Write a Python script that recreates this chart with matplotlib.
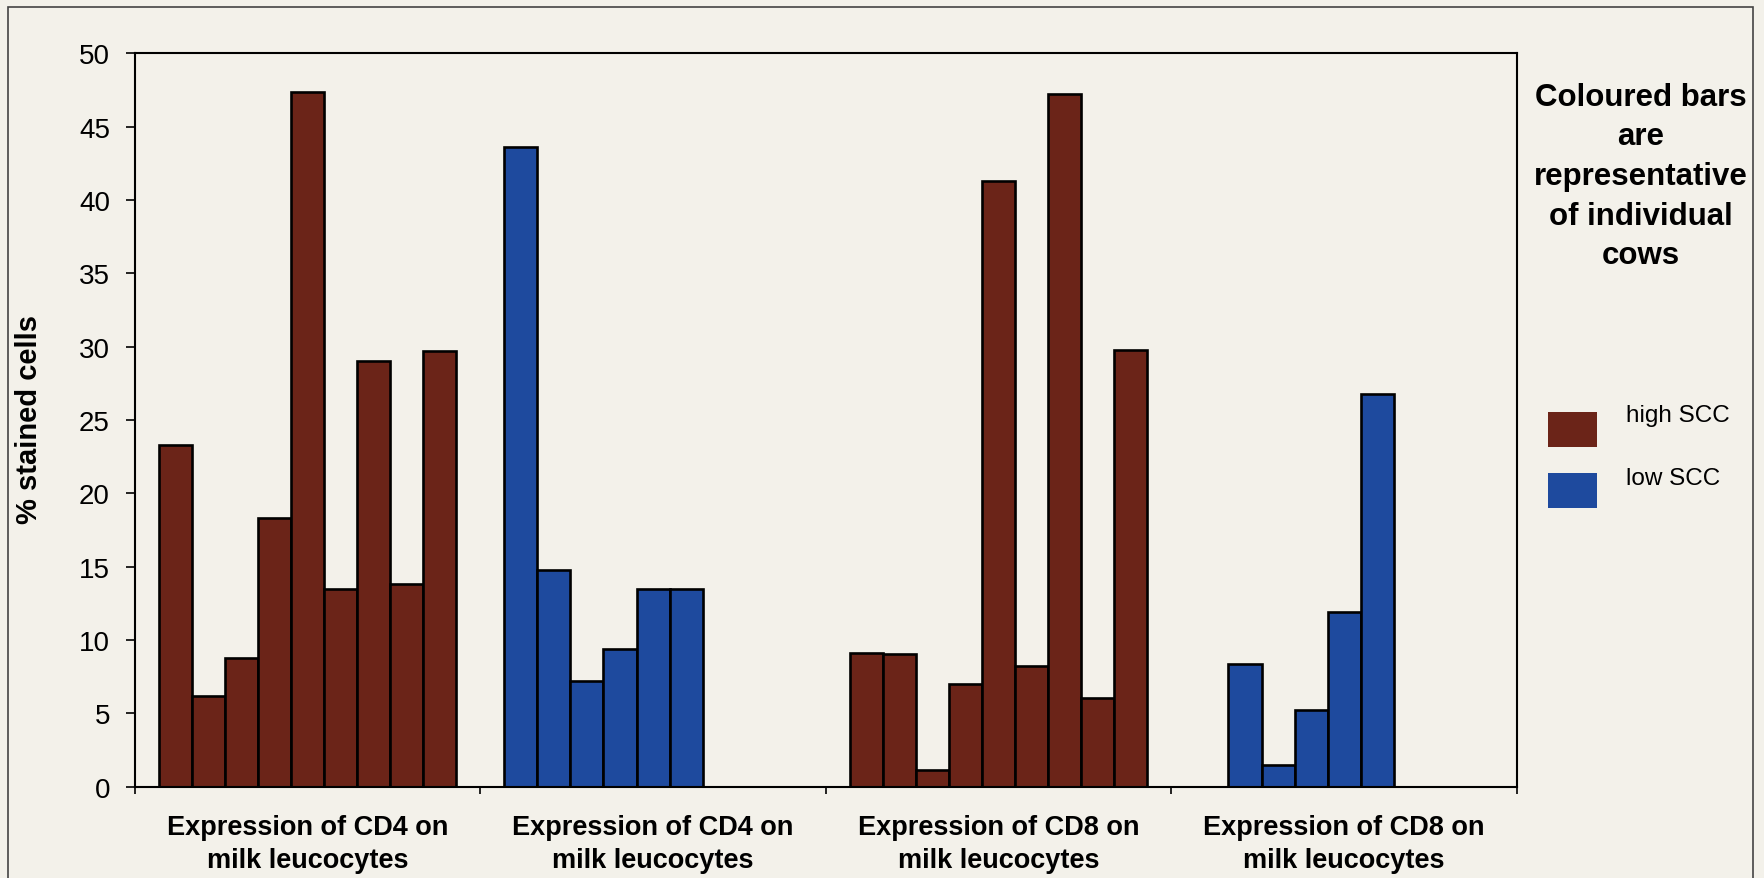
import numpy as np
import matplotlib
matplotlib.use('Agg')
from matplotlib import pyplot as plt
from matplotlib.patches import Rectangle

plt.rcParams['font.family'] = ['Liberation Sans', 'DejaVu Sans']

# values per category, one slot per cow (None = no bar in that slot)
categories = ['Expression of CD4 on\nmilk leucocytes',
              'Expression of CD4 on\nmilk leucocytes',
              'Expression of CD8 on\nmilk leucocytes',
              'Expression of CD8 on\nmilk leucocytes']
cd4_high = [23.3, 6.2, 8.75, 18.35, 47.4, 13.5, 29.0, 13.85, 29.7]
cd4_low = [43.6, 14.8, 7.2, 9.35, 13.45, 13.45, None, None, None]
cd8_high = [9.1, 9.05, 1.15, 7.0, 41.3, 8.2, 47.25, 6.05, 29.8]
cd8_low = [None, 8.35, 1.5, 5.2, 11.9, 26.8, None, None, None]
groups = [cd4_high, cd4_low, cd8_high, cd8_low]
group_type = ['high', 'low', 'high', 'low']
legend_labels = ['high SCC', 'low SCC']

high_col = '#6B2418'
low_col = '#1E4A9E'
bg = '#F3F1EA'
colours = {'high': high_col, 'low': low_col}

W, H = 1765, 879
fig = plt.figure(figsize=(W / 100, H / 100), dpi=100, facecolor=bg)
ax = fig.add_axes([134.7 / W, 1 - 787.6 / H, (1517 - 134.7) / W, (787.6 - 54.4) / H])
ax.set_facecolor(bg)

nslot = 9
gap = 1.45
w = 1.0 / (nslot + gap)
for c, vals in enumerate(groups):
    for s, v in enumerate(vals):
        if v is None:
            continue
        x = c + gap * w / 2 + s * w
        ax.bar(x, v, width=w, align='edge', color=colours[group_type[c]],
               edgecolor='black', linewidth=1.9)

ax.set_xlim(0, 4)
ax.set_ylim(0, 50)
ax.set_yticks(range(0, 51, 5))
ax.tick_params(axis='y', direction='out', length=6.3, width=1.2, labelsize=20, pad=11.5)
ax.set_xticks(np.arange(5), minor=False)
ax.set_xticklabels([])
ax.tick_params(axis='x', which='major', direction='out', length=5, width=1.2)
ax.set_xticks(np.arange(4) + 0.5, minor=True)
ax.set_xticklabels(categories, minor=True, fontsize=19.5, fontweight='bold', linespacing=1.35)
ax.tick_params(axis='x', which='minor', length=0, pad=20)
for sp in ax.spines.values():
    sp.set_linewidth(1.5)

ax.set_ylabel('% stained cells', fontsize=21, fontweight='bold')
ax.yaxis.set_label_coords((43 - 134.7) / (1517 - 134.7), (787.6 - 419) / (787.6 - 54.4))

# legend text on the right
fig.text(1641 / W, 1 - 177 / H, 'Coloured bars\nare\nrepresentative\nof individual\ncows',
         ha='center', va='center', multialignment='center', fontsize=22.5,
         fontweight='bold', linespacing=1.42)

# legend keys
key_cols = [high_col, low_col]
key_top = [413, 474]
text_y = [416, 479]
for i in range(2):
    fig.patches.append(Rectangle((1548 / W, 1 - (key_top[i] + 35) / H), 49 / W, 35 / H,
                                 transform=fig.transFigure, facecolor=key_cols[i],
                                 edgecolor='none'))
    fig.text(1626 / W, 1 - text_y[i] / H, legend_labels[i], ha='left', va='center',
             fontsize=17.5)

# outer frame of the scanned figure
fig.patches.append(Rectangle((8 / W, -0.05), (1752.7 - 8) / W, 1.05 - 8.4 / H,
                             transform=fig.transFigure, fill=False,
                             edgecolor='#444444', linewidth=1.2))

fig.savefig('out.png', dpi=100, facecolor=bg)
